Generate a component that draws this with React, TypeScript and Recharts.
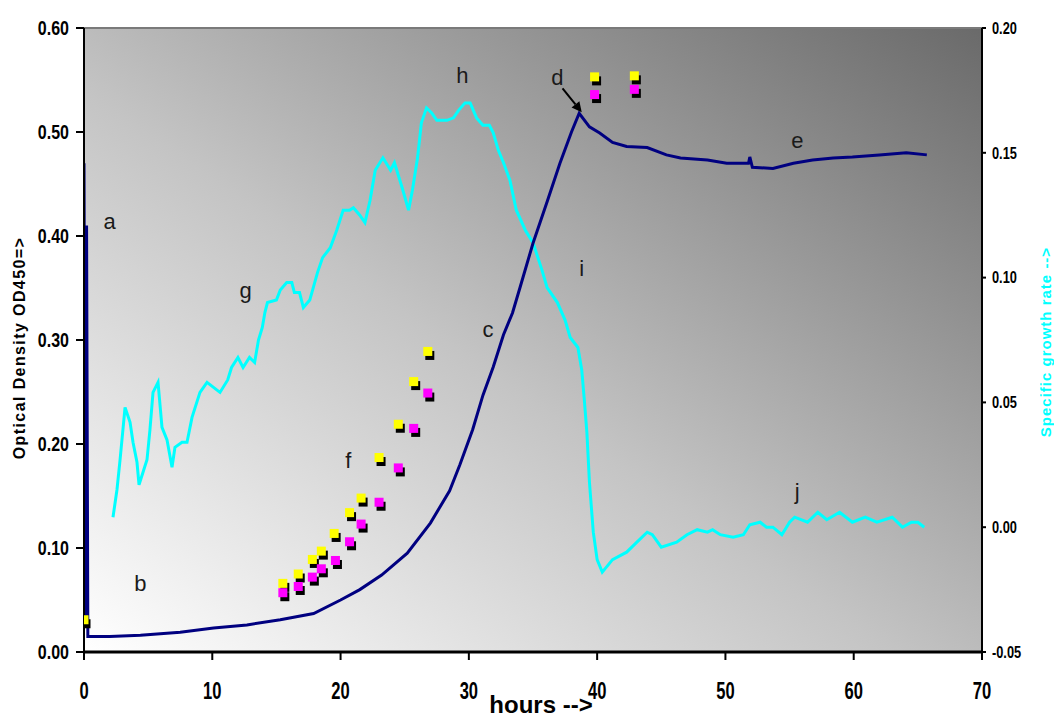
import React from 'react';
import {
  ComposedChart, Line, Scatter, XAxis, YAxis, ReferenceArea, ReferenceDot, ReferenceLine, Label,
} from 'recharts';

// Optical density (left axis) — navy curve
const odTime = [0, 0.1, 0.2, 0.3, 2, 4.4, 7.5, 10.1, 12.7, 15.3, 17.9, 20.0, 21.5, 23.2, 25.2, 27.0, 28.5, 29.3, 30.3, 31.1, 31.9, 32.7, 33.4, 34.0, 35.0, 36.1, 37.1, 38.0, 38.6, 39.4, 40.2, 41.2, 42.3, 43.9, 45.4, 46.5, 48.6, 50.1, 51.8, 51.9, 52.1, 53.7, 55.3, 56.8, 58.4, 59.9, 62.0, 64.1, 65.7];
const odValue = [0.47, 0.03, 0.41, 0.015, 0.015, 0.016, 0.019, 0.023, 0.026, 0.031, 0.037, 0.050, 0.060, 0.074, 0.095, 0.124, 0.155, 0.180, 0.214, 0.247, 0.274, 0.305, 0.326, 0.351, 0.393, 0.433, 0.470, 0.500, 0.518, 0.505, 0.499, 0.490, 0.486, 0.485, 0.478, 0.475, 0.473, 0.470, 0.470, 0.476, 0.466, 0.465, 0.470, 0.473, 0.475, 0.476, 0.478, 0.480, 0.478];

// Specific growth rate (right axis) — cyan curve
const muTime = [2.26, 2.57, 2.81, 3.2, 3.59, 3.82, 4.13, 4.29, 4.6, 4.91, 5.14, 5.38, 5.77, 6.08, 6.47, 6.86, 7.09, 7.64, 8.03, 8.42, 9.04, 9.59, 10.6, 11.2, 11.5, 12.0, 12.4, 12.9, 13.3, 13.6, 13.9, 14.1, 14.3, 15.0, 15.3, 15.8, 16.2, 16.4, 16.8, 17.1, 17.6, 18.2, 18.6, 19.2, 19.7, 20.2, 20.7, 21.0, 21.5, 21.9, 22.3, 22.7, 23.3, 23.9, 24.2, 24.8, 25.3, 25.6, 26.0, 26.3, 26.7, 27.1, 27.5, 28.3, 28.8, 29.2, 29.7, 30.1, 30.6, 31.1, 31.6, 31.9, 32.3, 32.7, 33.2, 33.7, 34.4, 35.0, 35.7, 36.1, 36.9, 37.5, 37.9, 38.5, 38.8, 39.0, 39.2, 39.4, 39.7, 40.0, 40.4, 41.2, 42.3, 43.1, 43.9, 44.3, 45.0, 46.2, 47.0, 47.8, 48.6, 49.0, 49.6, 50.6, 51.4, 51.9, 52.7, 53.2, 53.7, 54.4, 55.0, 55.4, 56.4, 57.2, 57.9, 58.9, 59.9, 60.9, 61.8, 63.0, 63.8, 64.5, 65.0, 65.5];
const muValue = [0.004, 0.015, 0.027, 0.048, 0.042, 0.034, 0.026, 0.017, 0.022, 0.027, 0.039, 0.054, 0.058, 0.040, 0.035, 0.024, 0.032, 0.034, 0.034, 0.044, 0.054, 0.058, 0.054, 0.059, 0.064, 0.068, 0.064, 0.068, 0.066, 0.075, 0.080, 0.086, 0.090, 0.091, 0.095, 0.098, 0.098, 0.094, 0.094, 0.088, 0.091, 0.102, 0.108, 0.112, 0.119, 0.127, 0.127, 0.128, 0.125, 0.122, 0.131, 0.143, 0.148, 0.143, 0.146, 0.136, 0.127, 0.135, 0.148, 0.162, 0.168, 0.166, 0.163, 0.163, 0.164, 0.167, 0.170, 0.170, 0.164, 0.161, 0.161, 0.158, 0.151, 0.146, 0.139, 0.127, 0.119, 0.114, 0.103, 0.096, 0.090, 0.083, 0.076, 0.072, 0.063, 0.051, 0.038, 0.018, -0.002, -0.013, -0.018, -0.013, -0.010, -0.006, -0.002, -0.003, -0.008, -0.006, -0.003, -0.001, -0.002, -0.001, -0.003, -0.004, -0.003, 0.001, 0.002, 0.000, 0.000, -0.003, 0.002, 0.004, 0.002, 0.006, 0.003, 0.006, 0.002, 0.004, 0.002, 0.004, 0.000, 0.002, 0.002, 0.000];

// Replicate OD samples (left axis)
const yellowTime = [0, 15.5, 16.7, 17.8, 18.5, 19.5, 20.7, 21.6, 23.0, 24.5, 25.7, 26.8, 39.8, 42.9];
const yellowOD = [0.031, 0.066, 0.075, 0.089, 0.097, 0.114, 0.134, 0.148, 0.187, 0.219, 0.260, 0.289, 0.553, 0.554];
const magentaTime = [15.5, 16.7, 17.8, 18.5, 19.6, 20.7, 21.6, 23.0, 24.5, 25.7, 26.8, 39.8, 42.9];
const magentaOD = [0.057, 0.063, 0.072, 0.080, 0.088, 0.106, 0.123, 0.144, 0.177, 0.215, 0.249, 0.536, 0.541];

// Annotation letters
const noteText = ['a', 'b', 'c', 'd', 'e', 'f', 'g', 'h', 'i', 'j'];
const noteTime = [2.0, 4.4, 31.5, 36.9, 55.6, 20.6, 12.6, 29.5, 38.8, 55.6];
const noteOD = [0.414, 0.066, 0.310, 0.552, 0.492, 0.184, 0.348, 0.554, 0.369, 0.154];

const xTicks = [0, 10, 20, 30, 40, 50, 60, 70];
const leftTicks = [0, 0.1, 0.2, 0.3, 0.4, 0.5, 0.6];
const rightTicks = [-0.05, 0, 0.05, 0.1, 0.15, 0.2];

const odData = odTime.map((t, i) => ({ t, od: odValue[i] }));
const muData = muTime.map((t, i) => ({ t, mu: muValue[i] }));
const yellowData = yellowTime.map((t, i) => ({ t, od: yellowOD[i] }));
const magentaData = magentaTime.map((t, i) => ({ t, od: magentaOD[i] }));

const SANS = '"Liberation Sans", Arial, sans-serif';

const makeTick = (fontSize: number, sx: number, anchor: string, dy: string, fmt: (v: number) => string) => (p: any) => {
  const { x, y, payload } = p;
  return (
    <g transform={`translate(${x},${y})`}>
      <text x={0} y={0} dy={dy} transform={`scale(${sx},1)`} textAnchor={anchor} fontSize={fontSize} fontWeight="bold" fontFamily={SANS} fill="#000">
        {fmt(payload.value)}
      </text>
    </g>
  );
};

const makeSquare = (color: string) => (p: any) => {
  const { cx, cy } = p;
  if (cx == null || cy == null) return <g />;
  return (
    <g>
      <rect x={cx - 4.5 + 2} y={cy - 4.5 + 4} width={9} height={9} fill="#000" />
      <rect x={cx - 4.5} y={cy - 4.5} width={9} height={9} fill={color} />
    </g>
  );
};

const Arrow = (p: any) => {
  const { x1, y1, x2, y2 } = p;
  if (x1 == null) return <g />;
  const ang = Math.atan2(y2 - y1, x2 - x1);
  const L = 10, W = 5;
  const bx = x2 - L * Math.cos(ang), by = y2 - L * Math.sin(ang);
  const px = -Math.sin(ang) * W, py = Math.cos(ang) * W;
  return (
    <g>
      <line x1={x1} y1={y1} x2={bx} y2={by} stroke="#000" strokeWidth={2} />
      <polygon points={`${x2},${y2} ${bx + px},${by + py} ${bx - px},${by - py}`} fill="#000" />
    </g>
  );
};

const fmt2 = (v: number) => v.toFixed(2);
const fmt0 = (v: number) => String(v);

export default function App() {
  return (
    <div style={{ position: 'absolute', left: 0, top: 0, width: 1054, height: 715 }}>
      <ComposedChart width={1054} height={715} margin={{ top: 28, right: 0, left: 0, bottom: 0 }}>
        <defs>
          <linearGradient id="bgGrad" x1="0" y1="1" x2="1" y2="0">
            <stop offset="0%" stopColor="#ffffff" />
            <stop offset="45%" stopColor="#c4c4c4" />
            <stop offset="100%" stopColor="#6a6a6a" />
          </linearGradient>
        </defs>
        <XAxis
          type="number"
          dataKey="t"
          domain={[0, 70]}
          ticks={xTicks}
          allowDataOverflow
          height={63}
          axisLine={{ stroke: '#000', strokeWidth: 3 }}
          tickLine={{ stroke: '#000', strokeWidth: 2 }}
          tickSize={8}
          tickMargin={22}
          tick={makeTick(23, 0.72, 'middle', '0.72em', fmt0)}
        >
          <Label
            content={(p: any) => {
              const vb = p.viewBox || {};
              return (
                <text x={vb.x + vb.width / 2 + 8} y={vb.y + 61} textAnchor="middle" fontSize={24} fontWeight="bold" fontFamily={SANS} fill="#000">
                  hours --&gt;
                </text>
              );
            }}
          />
        </XAxis>
        <YAxis
          yAxisId="left"
          type="number"
          domain={[0, 0.6]}
          ticks={leftTicks}
          width={84}
          allowDataOverflow
          axisLine={{ stroke: '#000', strokeWidth: 2 }}
          tickLine={{ stroke: '#000', strokeWidth: 2 }}
          tickSize={8}
          tickMargin={7}
          tick={makeTick(20, 0.8, 'end', '0.36em', fmt2)}
        >
          <Label
            content={(p: any) => {
              const vb = p.viewBox || {};
              const cx = 19, cy = vb.y + vb.height / 2 + 8;
              return (
                <text x={cx} y={cy} transform={`rotate(-90 ${cx} ${cy})`} textAnchor="middle" dominantBaseline="central" fontSize={16} fontWeight="bold" letterSpacing={1.4} fontFamily={SANS} fill="#000">
                  Optical Density OD450=&gt;
                </text>
              );
            }}
          />
        </YAxis>
        <YAxis
          yAxisId="right"
          orientation="right"
          type="number"
          domain={[-0.05, 0.2]}
          ticks={rightTicks}
          width={72}
          allowDataOverflow
          axisLine={{ stroke: '#000', strokeWidth: 2 }}
          tickLine={{ stroke: '#000', strokeWidth: 2 }}
          tickSize={4}
          tickMargin={6}
          tick={makeTick(16, 0.8, 'start', '0.36em', fmt2)}
        >
          <Label
            content={(p: any) => {
              const vb = p.viewBox || {};
              const cx = 1045, cy = vb.y + vb.height / 2 + 2;
              return (
                <text x={cx} y={cy} transform={`rotate(-90 ${cx} ${cy})`} textAnchor="middle" dominantBaseline="central" fontSize={15} fontWeight="bold" letterSpacing={1} fontFamily={SANS} fill="#00ffff">
                  Specific growth rate --&gt;
                </text>
              );
            }}
          />
        </YAxis>
        <ReferenceArea
          yAxisId="left"
          x1={0}
          x2={70}
          y1={0}
          y2={0.6}
          fill="url(#bgGrad)"
          fillOpacity={1}
          stroke="#7a7a7a"
          strokeWidth={2}
          ifOverflow="visible"
        />
        <Line yAxisId="right" data={muData} dataKey="mu" type="linear" stroke="#00ffff" strokeWidth={3} dot={false} activeDot={false} isAnimationActive={false} />
        <Line yAxisId="left" data={odData} dataKey="od" type="linear" stroke="#000080" strokeWidth={3} dot={false} activeDot={false} isAnimationActive={false} />
        <Scatter yAxisId="left" data={yellowData} dataKey="od" shape={makeSquare('#ffff00')} isAnimationActive={false} />
        <Scatter yAxisId="left" data={magentaData} dataKey="od" shape={makeSquare('#ff00ff')} isAnimationActive={false} />
        <ReferenceLine
          yAxisId="left"
          segment={[{ x: 37.3, y: 0.542 }, { x: 38.8, y: 0.519 }]}
          shape={Arrow}
          ifOverflow="visible"
        />
        {noteText.map((s, i) => (
          <ReferenceDot
            key={s}
            yAxisId="left"
            x={noteTime[i]}
            y={noteOD[i]}
            r={0}
            ifOverflow="visible"
            shape={(p: any) => (
              <text x={p.cx} y={p.cy} textAnchor="middle" dominantBaseline="central" fontSize={22} fontFamily={SANS} fill="#1a1a1a">
                {s}
              </text>
            )}
          />
        ))}
      </ComposedChart>
    </div>
  );
}
